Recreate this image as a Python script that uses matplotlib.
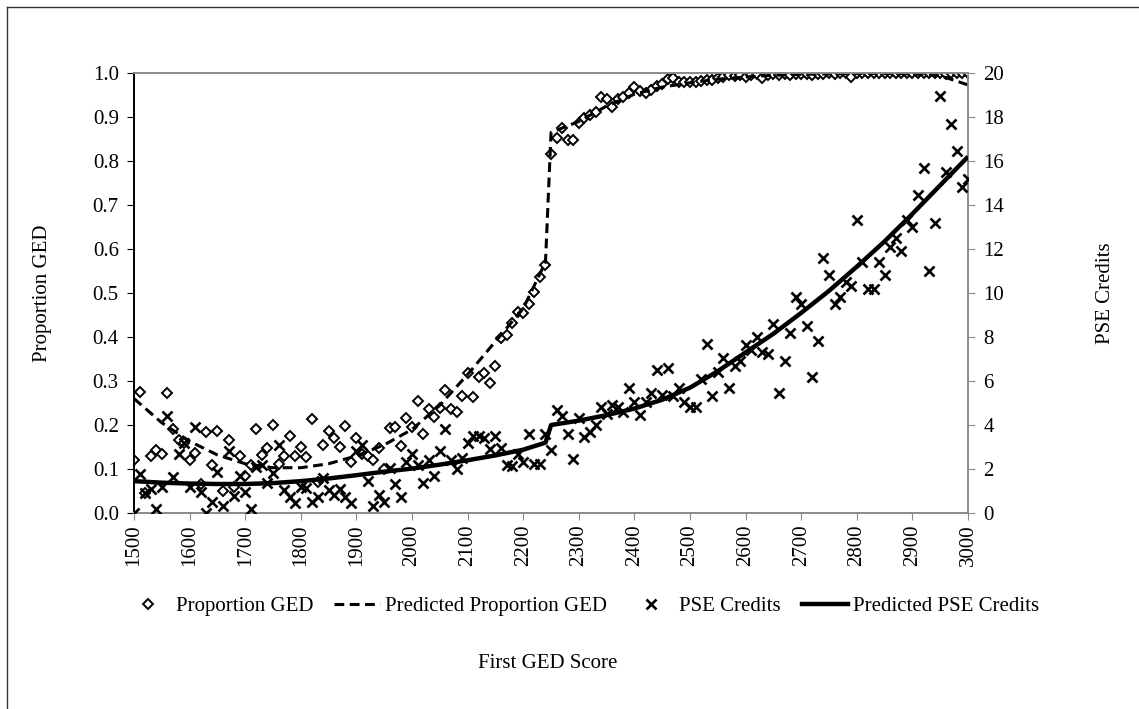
import matplotlib
matplotlib.use("Agg")
import matplotlib.pyplot as plt
from matplotlib.lines import Line2D
from matplotlib.ticker import FormatStrFormatter, MultipleLocator

# Data
scores = list(range(1500, 3001, 10))

proportion_ged = [
    0.12, 0.275, 0.045, 0.13, 0.143, 0.134, 0.272, 0.19, 0.166, 0.16,
    0.12, 0.136, 0.066, 0.185, 0.11, 0.187, 0.05, 0.166, 0.06, 0.13,
    0.085, 0.11, 0.19, 0.132, 0.148, 0.2, 0.112, 0.13, 0.175, 0.13,
    0.15, 0.127, 0.214, 0.07, 0.155, 0.187, 0.17, 0.15, 0.198, 0.117,
    0.17, 0.135, 0.13, 0.12, 0.148, 0.1, 0.193, 0.195, 0.153, 0.215,
    0.195, 0.255, 0.18, 0.236, 0.218, 0.238, 0.28, 0.236, 0.23, 0.266,
    0.318, 0.264, 0.31, 0.318, 0.295, 0.334, 0.398, 0.405, 0.432, 0.457,
    0.454, 0.475, 0.502, 0.537, 0.564, 0.816, 0.852, 0.875, 0.848, 0.848,
    0.886, 0.898, 0.905, 0.911, 0.945, 0.94, 0.922, 0.94, 0.945, 0.954,
    0.968, 0.959, 0.954, 0.961, 0.97, 0.975, 0.986, 0.988, 0.98, 0.98,
    0.98, 0.98, 0.982, 0.985, 0.985, 0.988, 0.99, 0.995, 0.993, 0.995,
    0.99, 0.995, 0.997, 0.988, 0.995, 0.997, 0.995, 0.997, 0.995, 0.997,
    0.997, 0.998, 0.996, 0.998, 0.998, 0.999, 0.998, 1.0, 0.999, 0.99,
    1.0, 0.999, 1.0, 1.0, 1.0, 1.0, 1.0, 1.0, 1.0, 1.0,
    1.0, 1.0, 1.0, 1.0, 1.0, 1.0, 0.998, 1.0, 1.0, 1.0,
    1.0,
]

pse_credits = [
    0.0, 1.77, 0.9, 1.1, 0.18, 1.2, 4.4, 1.65, 2.7, 3.2,
    1.2, 3.9, 0.95, 0.0, 0.5, 1.86, 0.3, 2.8, 0.77, 1.7,
    0.95, 0.2, 2.1, 2.2, 1.36, 1.8, 3.1, 1.05, 0.75, 0.45,
    1.2, 1.15, 0.5, 0.75, 1.6, 1.05, 0.8, 1.1, 0.75, 0.45,
    2.8, 3.1, 1.45, 0.3, 0.8, 0.5, 2.05, 1.3, 0.75, 2.3,
    2.7, 2.2, 1.35, 2.4, 1.7, 2.8, 3.8, 2.4, 2.0, 2.5,
    3.2, 3.5, 3.5, 3.4, 2.9, 3.5, 2.95, 2.2, 2.15, 2.7,
    2.3, 3.6, 2.25, 2.25, 3.6, 2.85, 4.7, 4.4, 3.6, 2.45,
    4.3, 3.45, 3.7, 4.0, 4.8, 4.5, 4.9, 4.8, 4.6, 5.7,
    5.05, 4.45, 5.05, 5.45, 6.5, 5.35, 6.6, 5.3, 5.7, 5.05,
    4.8, 4.8, 6.1, 7.7, 5.3, 6.4, 7.05, 5.7, 6.7, 6.9,
    7.65, 7.4, 8.0, 7.3, 7.25, 8.6, 5.45, 6.9, 8.2, 9.8,
    9.5, 8.5, 6.2, 7.8, 11.6, 10.8, 9.5, 9.8, 10.5, 10.3,
    13.3, 11.4, 10.2, 10.2, 11.4, 10.8, 12.1, 12.5, 11.9, 13.3,
    13.0, 14.45, 15.7, 11.0, 13.2, 18.95, 15.5, 17.7, 16.45, 14.8,
    15.2,
]

pred_scores = [1500, 1550, 1600, 1650, 1700, 1750, 1800, 1850, 1900, 1950,
               2000, 2050, 2100, 2150, 2200, 2240, 2250, 2300, 2350, 2400,
               2450, 2500, 2550, 2600, 2650, 2700, 2750, 2800, 2850, 2900,
               2950, 3000]
pred_proportion = [0.26, 0.205, 0.163, 0.132, 0.112, 0.103, 0.103, 0.112, 0.13, 0.155,
                   0.19, 0.245, 0.315, 0.39, 0.465, 0.57, 0.865, 0.89, 0.925, 0.952,
                   0.968, 0.978, 0.986, 0.991, 0.995, 0.997, 0.998, 0.999, 0.999, 0.998,
                   0.994, 0.973]
pred_credits = [1.45, 1.38, 1.34, 1.32, 1.32, 1.36, 1.45, 1.57, 1.72, 1.88,
                2.02, 2.2, 2.4, 2.62, 2.88, 3.2, 4.0, 4.2, 4.45, 4.75,
                5.15, 5.7, 6.45, 7.3, 8.15, 9.1, 10.1, 11.2, 12.35, 13.6,
                14.9, 16.2]

# Styling
plt.rcParams["font.family"] = ["Liberation Serif", "DejaVu Serif"]
font_size = 15
grey = "#8c8c8c"

fig = plt.figure(figsize=(11.39, 7.09), dpi=100)
ax = fig.add_axes([0.1177, 0.2764, 0.7322, 0.6206])
ax2 = ax.twinx()

# Proportion GED on the left axis
ax.plot(scores, proportion_ged, linestyle="none", marker="D", markersize=5.5,
        markerfacecolor="white", markeredgecolor="black", markeredgewidth=1.4,
        label="Proportion GED", zorder=3)
ax.plot(pred_scores, pred_proportion, color="black", linewidth=2.2,
        dashes=(3.2, 1.8), label="Predicted Proportion GED", zorder=4)

# PSE credits on the right axis
ax2.plot(scores, pse_credits, linestyle="none", marker="x", markersize=7,
         markeredgecolor="black", markeredgewidth=1.9, label="PSE Credits", zorder=3)
ax2.plot(pred_scores, pred_credits, color="black", linewidth=3.2,
         solid_capstyle="butt", label="Predicted PSE Credits", zorder=4)

ax.set_xlim(1500, 3000)
ax.set_ylim(0, 1.0)
ax2.set_ylim(0, 20)
ax.xaxis.set_major_locator(MultipleLocator(100))
ax.yaxis.set_major_locator(MultipleLocator(0.1))
ax.yaxis.set_major_formatter(FormatStrFormatter("%.1f"))
ax2.yaxis.set_major_locator(MultipleLocator(2))

ax.tick_params(axis="x", labelrotation=90, labelsize=font_size, length=5,
               direction="out", color=grey, pad=3)
ax.tick_params(axis="y", labelsize=font_size, length=5, direction="out", pad=6)
ax2.tick_params(axis="y", labelsize=font_size, length=5, direction="out",
                color=grey, pad=6)

# Spines: black left axis, grey for the rest
for a in (ax, ax2):
    a.spines["top"].set_color(grey)
    a.spines["bottom"].set_color(grey)
    a.spines["right"].set_color(grey)
    a.spines["left"].set_color("black")
    for s in a.spines.values():
        s.set_linewidth(1.3)

# Axis titles
fig.text(42 / 1139, 1 - 293 / 709, "Proportion GED", rotation=90, ha="center",
         va="center", fontsize=font_size)
fig.text(1105 / 1139, 1 - 293 / 709, "PSE Credits", rotation=90, ha="center",
         va="center", fontsize=font_size)
fig.text(548 / 1139, 1 - 663 / 709, "First GED Score", ha="center", va="center",
         fontsize=font_size)

# Legend below the plot
handles = [
    Line2D([], [], linestyle="none", marker="D", markersize=5.5,
           markerfacecolor="white", markeredgecolor="black", markeredgewidth=1.4),
    Line2D([], [], color="black", linewidth=2.2, dashes=(3.2, 1.8)),
    Line2D([], [], linestyle="none", marker="x", markersize=7,
           markeredgecolor="black", markeredgewidth=1.9),
    Line2D([], [], color="black", linewidth=3.2),
]
labels = ["Proportion GED", "Predicted Proportion GED", "PSE Credits",
          "Predicted PSE Credits"]
fig.legend(handles, labels, loc="center", bbox_to_anchor=(582 / 1139, 1 - 606 / 709),
           ncol=4, frameon=False, fontsize=font_size, handlelength=2.2,
           handletextpad=0.25, columnspacing=1.0)

# Outer chart frame (only top and left visible in the reference)
fig.add_artist(Line2D([7 / 1139, 7 / 1139], [0, 1 - 7 / 709], color="#333333",
                      linewidth=1.0, transform=fig.transFigure))
fig.add_artist(Line2D([7 / 1139, 1], [1 - 7 / 709, 1 - 7 / 709], color="#333333",
                      linewidth=1.0, transform=fig.transFigure))

fig.savefig("out.png", dpi=100)
